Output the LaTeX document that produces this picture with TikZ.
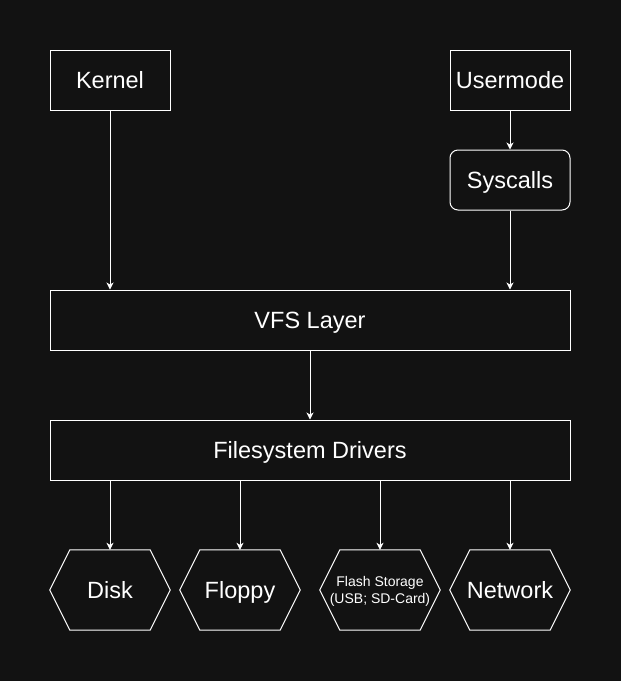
\documentclass[tikz,border=0pt]{standalone}
\usepackage{fontspec}
\setmainfont{Liberation Sans}
\usetikzlibrary{arrows.meta}
\definecolor{bgdark}{HTML}{121212}

\tikzset{
    block/.style={draw=white, line width=1pt, text=white, minimum width=120pt,
        minimum height=60pt, inner sep=0pt, text height=17pt, text depth=0pt,
        font=\fontsize{23.5}{28}\selectfont},
    wideblock/.style={block, minimum width=520pt},
    roundblock/.style={block, rounded corners=8pt},
    hexlabel/.style={text=white, minimum width=120pt, minimum height=80pt,
        inner sep=0pt, align=center, text depth=0pt, font=\fontsize{23.5}{28}\selectfont},
    hexword/.style={hexlabel, text height=17pt},
    link/.style={draw=white, line width=1pt, -{Stealth[length=7pt,width=7pt,inset=2pt]}}
}

\begin{document}
\begin{tikzpicture}[x=1pt, y=-1pt]

    % Background
    \fill[bgdark] (0,0) rectangle (621,681);

    % Top row
    \node[block] (kernel) at (110,80) {Kernel};
    \node[block] (usermode) at (510,80) {Usermode};
    \node[roundblock] (syscalls) at (510,180) {Syscalls};

    % Layers
    \node[wideblock] (vfs) at (310,320) {VFS Layer};
    \node[wideblock] (drivers) at (310,450) {Filesystem Drivers};

    % Storage backends
    \node[hexword] (disk) at (110,590) {Disk};
    \node[hexword] (floppy) at (240,590) {Floppy};
    \node[hexlabel, font=\fontsize{14}{17}\selectfont] (flash) at (380,590) {Flash Storage\\(USB; SD-Card)};
    \node[hexword] (network) at (510,590) {Network};

    \foreach \n in {disk,floppy,flash,network}
        \draw[white, line width=1pt] (\n.west) -- ([xshift=20pt]\n.north west)
            -- ([xshift=-20pt]\n.north east) -- (\n.east)
            -- ([xshift=-20pt]\n.south east) -- ([xshift=20pt]\n.south west) -- cycle;

    % Connectors
    \draw[link] (kernel.south) -- (kernel.south |- vfs.north);
    \draw[link] (usermode.south) -- (syscalls.north);
    \draw[link] (syscalls.south) -- (syscalls.south |- vfs.north);
    \draw[link] (vfs.south) -- (drivers.north);
    \foreach \n in {disk,floppy,flash,network}
        \draw[link] (drivers.south -| \n.north) -- (\n.north);

\end{tikzpicture}
\end{document}
